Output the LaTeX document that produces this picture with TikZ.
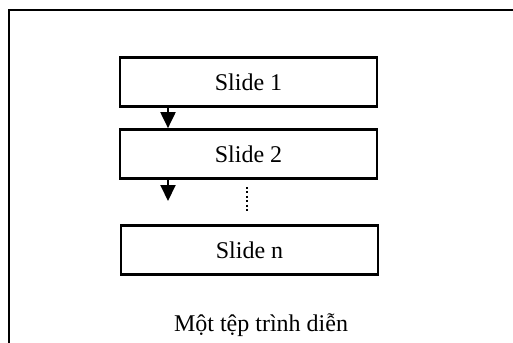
\documentclass[tikz,border=0pt]{standalone}
\usepackage{fontspec}
\setmainfont{Liberation Serif}
\usetikzlibrary{arrows.meta}
\begin{document}
\begin{tikzpicture}[x=0.5pt,y=-0.5pt,
  slidebox/.style={draw,line width=1.35pt,minimum width=128.5pt,minimum height=24.5pt,inner sep=0pt,font=\fontsize{12}{14}\selectfont},
  arr/.style={line width=1pt,-{Triangle[width=7.5pt,length=8pt]}},
  frame/.style={line width=1.35pt}]
\useasboundingbox (0,0) rectangle (513,342);
\clip (0,0) rectangle (513,342);
\draw[frame] (9,10) rectangle (530,360);
\node[slidebox] (s1) at (248.5,82) {Slide 1};
\node[slidebox] (s2) at (248.5,154) {Slide 2};
\node[slidebox] (sn) at (249.5,250) {Slide n};
\coordinate (ax) at (168,0);
\coordinate (a2) at (168,201);
\draw[arr] (s1.south -| ax) -- (s2.north -| ax);
\draw[arr] (s2.south -| ax) -- (a2);
\coordinate (d1) at (247,187);
\coordinate (d2) at (247,212);
\draw[line width=0.8pt,dash pattern=on 1pt off 1.2pt] (d1) -- (d2);
\node[font=\fontsize{12}{14}\selectfont] (lbl) at (261,325) {Một tệp trình diễn};
\end{tikzpicture}
\end{document}
